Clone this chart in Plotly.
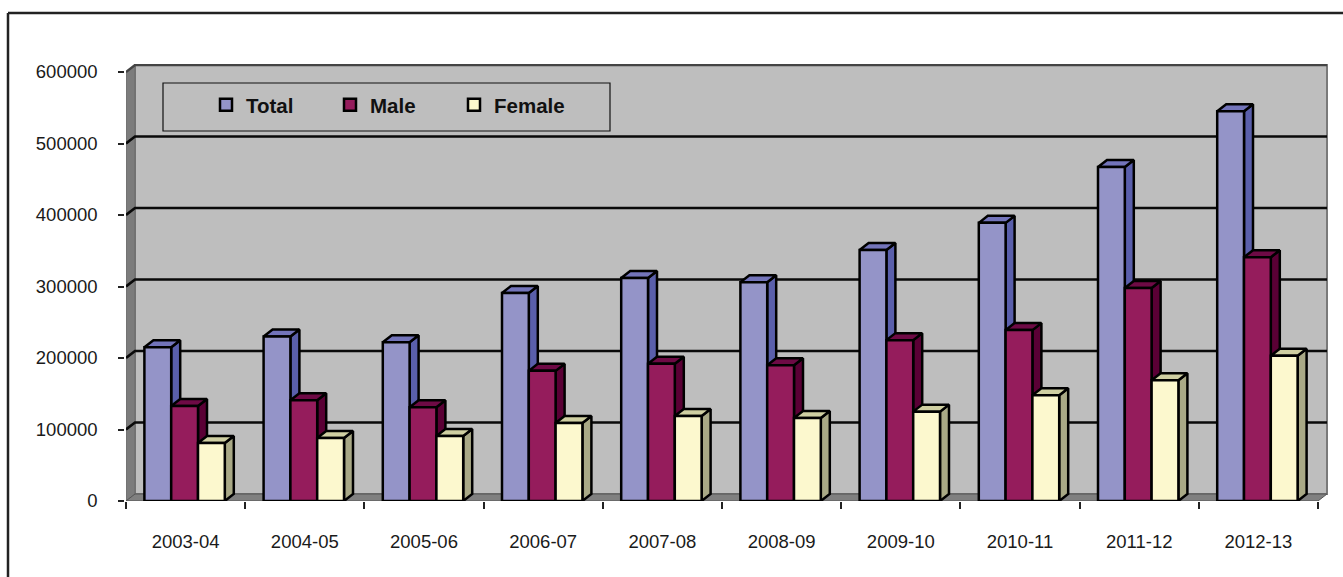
import plotly.graph_objects as go

categories = ["2003-04", "2004-05", "2005-06", "2006-07", "2007-08",
              "2008-09", "2009-10", "2010-11", "2011-12", "2012-13"]
total = [215000, 230000, 222000, 291000, 312000, 306000, 351000, 389000, 467000, 545000]
male = [133000, 141000, 131000, 182000, 192000, 190000, 225000, 239000, 298000, 341000]
female = [81000, 88000, 91000, 109000, 119000, 116000, 125000, 148000, 169000, 203000]
y_ticks = [0, 100000, 200000, 300000, 400000, 500000, 600000]

W, H = 1343, 577
L, R, T, B = 126, 1328, 64, 501
PX_X = 119.2
PX_Y = 429 / 600000
DX = 9 / PX_X
DY = 7 / PX_Y
BAR_W = 26.8 / PX_X
GROUP_START = 18.4 / PX_X
N = len(categories)
FONT = "Liberation Sans, Arial, sans-serif"
TEXT = "#1a1a1a"

series = [
    ("Total", total, "#9494C8", "#5A5FAB", "#7374BA"),
    ("Male", male, "#951C5C", "#5A0035", "#6E0A45"),
    ("Female", female, "#FCF8CE", "#A9A986", "#CFCFA2"),
]

fig = go.Figure()


def poly(xs, ys, fill, line="black", width=2.5, zorder=0):
    return go.Scatter(x=xs, y=ys, mode="lines", fill="toself", fillcolor=fill,
                      line=dict(color=line, width=width), hoverinfo="skip",
                      showlegend=False, cliponaxis=False, zorder=zorder)


xmax = N + DX
# back wall, left wall, floor
fig.add_trace(poly([DX, xmax, xmax, DX, DX], [DY, DY, 600000 + DY, 600000 + DY, DY],
                   "#BEBEBE", "#7A7A7A", 2))
fig.add_trace(poly([0, DX, DX, 0, 0], [0, DY, 600000 + DY, 600000, 0], "#7C7C7C", "#6A6A6A", 1))
fig.add_trace(poly([0, DX, xmax, N, 0], [0, DY, DY, 0, 0], "#808080", "#555555", 1))

# gridlines wrap from the left wall on to the back wall
gx, gy = [], []
for v in y_ticks[1:-1]:
    gx += [0, DX, xmax, None]
    gy += [v, v + DY, v + DY, None]
fig.add_trace(go.Scatter(x=gx, y=gy, mode="lines", line=dict(color="#0a0a0a", width=2.6),
                         hoverinfo="skip", showlegend=False, cliponaxis=False, zorder=0))
fig.add_trace(go.Scatter(x=[0, DX, xmax], y=[y_ticks[-1], y_ticks[-1] + DY, y_ticks[-1] + DY],
                         mode="lines", line=dict(color="#444444", width=2.4),
                         hoverinfo="skip", showlegend=False, cliponaxis=False, zorder=0))

z = 1
for k, (name, vals, front, side, top) in enumerate(series):
    sx, sy, tx, ty = [], [], [], []
    for i, v in enumerate(vals):
        x0 = i + GROUP_START + k * BAR_W
        x1 = x0 + BAR_W
        sx += [x1, x1 + DX, x1 + DX, x1, x1, None]
        sy += [0, DY, v + DY, v, 0, None]
        tx += [x0, x0 + DX, x1 + DX, x1, x0, None]
        ty += [v, v + DY, v + DY, v, v, None]
    fig.add_trace(poly(sx, sy, side, zorder=z))
    fig.add_trace(poly(tx, ty, top, zorder=z))
    fig.add_trace(go.Bar(
        name=name, x=[i + GROUP_START + k * BAR_W for i in range(N)], y=vals,
        width=BAR_W, offset=0, marker=dict(color=front, line=dict(color="black", width=2.5)),
        cliponaxis=False, zorder=z + 1, hoverinfo="skip"))
    z += 2

fig.update_layout(
    width=W, height=H, autosize=False, barmode="overlay",
    margin=dict(l=L, r=W - R, t=T, b=H - B, pad=0),
    paper_bgcolor="white", plot_bgcolor="white",
    font=dict(family=FONT, size=18.5, color=TEXT),
    xaxis=dict(
        range=[0, (R - L) / PX_X], showgrid=False, zeroline=False,
        tickmode="array", tickvals=[i + 0.5 for i in range(N)], ticktext=categories,
        ticks="", ticklabelstandoff=27, tickfont=dict(family=FONT, size=18.5, color=TEXT),
        showline=False,
        minor=dict(tickmode="array", tickvals=list(range(N + 1)), ticks="outside",
                   ticklen=7, tickwidth=1.5, tickcolor="#222222", showgrid=False),
    ),
    yaxis=dict(
        range=[0, (B - T) / PX_Y], showgrid=False, zeroline=False,
        tickmode="array", tickvals=y_ticks, tickformat="d",
        ticks="outside", ticklen=6, tickwidth=1.5, tickcolor="#222222",
        ticklabelstandoff=17, tickfont=dict(family=FONT, size=18.5, color=TEXT),
        showline=True, linecolor="#222222", linewidth=1.5,
    ),
    legend=dict(
        orientation="h", x=(206 - L) / (R - L), y=1 - (85 - T) / (B - T),
        xanchor="left", yanchor="top", bgcolor="rgba(0,0,0,0)", borderwidth=0,
        entrywidth=79, entrywidthmode="pixels", itemwidth=30, traceorder="normal",
        font=dict(family=FONT, size=20.5, color="#111111", weight="bold"),
    ),
    shapes=[
        dict(type="rect", xref="paper", yref="paper",
             x0=(163 - L) / (R - L), x1=(610 - L) / (R - L),
             y0=1 - (131 - T) / (B - T), y1=1 - (83 - T) / (B - T),
             line=dict(color="#111111", width=1.2), fillcolor="rgba(0,0,0,0)", layer="above"),
        dict(type="line", xref="paper", yref="paper",
             x0=(8 - L) / (R - L), x1=(W - L + 5) / (R - L),
             y0=1 - (13 - T) / (B - T), y1=1 - (13 - T) / (B - T),
             line=dict(color="#222222", width=2.5)),
        dict(type="line", xref="paper", yref="paper",
             x0=(8 - L) / (R - L), x1=(8 - L) / (R - L),
             y0=1 - (13 - T) / (B - T), y1=1 - (H + 5 - T) / (B - T),
             line=dict(color="#222222", width=2.5)),
    ],
)

fig.write_html("out.html", config={"displayModeBar": False},
               post_script="document.body.style.margin='0';document.body.style.overflow='hidden';")
